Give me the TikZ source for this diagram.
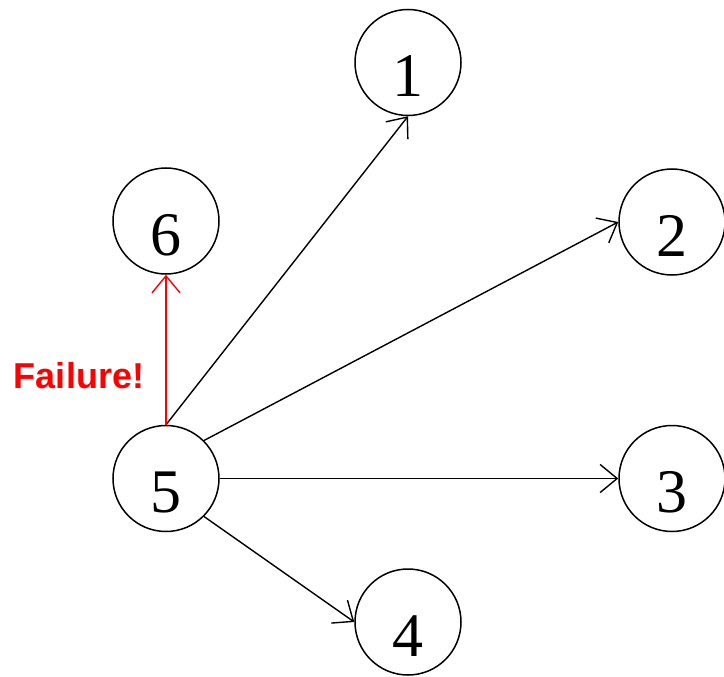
\documentclass[tikz,border=0pt]{standalone}
\usepackage{fontspec}
\setmainfont{Liberation Serif}
\newfontfamily\labelfont{Liberation Sans}
\usetikzlibrary{arrows.meta}
\tikzset{
  vertex/.style={draw, circle, line width=1.5pt, minimum size=106pt, inner sep=0pt,
    font=\fontsize{62}{62}\selectfont, text height=68pt, text depth=0pt},
  edge/.style={line width=1.4pt, -{Straight Barb[length=17pt,width=28pt,line width=1.4pt]}},
  faillabel/.style={text=red, font=\labelfont\bfseries\fontsize{36}{36}\selectfont}
}
\begin{document}
\begin{tikzpicture}[x=1pt,y=-1pt]
  \useasboundingbox (0,0) rectangle (724,677);
  \node[vertex] (n1) at (408,62.5) {1};
  \node[vertex] (n6) at (166,221) {6};
  \node[vertex] (n2) at (672,222) {2};
  \node[vertex] (n5) at (166,478.5) {5};
  \node[vertex] (n3) at (672,478.5) {3};
  \node[vertex] (n4) at (408,622) {4};
  \draw[edge] (n5.north) -- (n1.south);
  \draw[edge] (n5.north east) -- (n2.west);
  \draw[edge] (n5.east) -- (n3.west);
  \draw[edge] (n5.south east) -- (n4.west);
  \draw[edge, red] (n5.north) -- (n6.south);
  \node[faillabel] (fail) at (79,376) {Failure!};
\end{tikzpicture}
\end{document}
